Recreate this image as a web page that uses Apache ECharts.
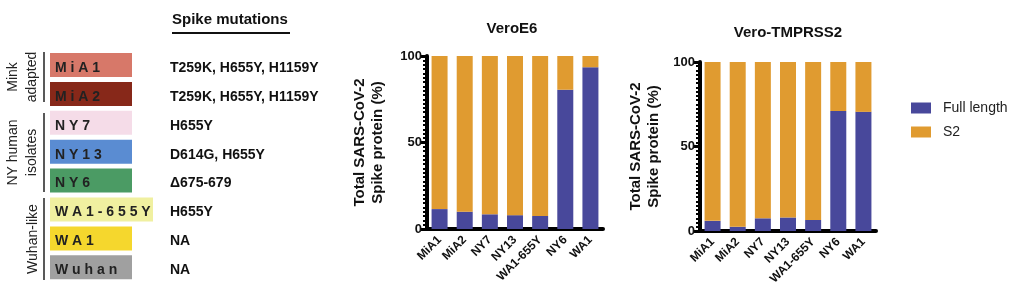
<!DOCTYPE html>
<html>
<head>
<meta charset="utf-8">
<script src="https://cdn.jsdelivr.net/npm/echarts@6/dist/echarts.min.js"></script>
<style>
html,body{margin:0;padding:0;background:#fff;}
#chart{width:1024px;height:300px;}
</style>
</head>
<body>
<div id="chart"></div>
<script>
// ---- data ----
const categories = ['MiA1', 'MiA2', 'NY7', 'NY13', 'WA1-655Y', 'NY6', 'WA1'];
const veroE6Full = [11.5, 10, 8.5, 8, 7.5, 80.5, 93.5];
const veroE6S2 = [88.5, 90, 91.5, 92, 92.5, 19.5, 6.5];
const tmprssFull = [6, 2.5, 7.5, 8, 6.5, 71, 70.5];
const tmprssS2 = [94, 97.5, 92.5, 92, 93.5, 29, 29.5];
const yTicks = [0, 50, 100];

const strains = ['MiA1', 'MiA2', 'NY7', 'NY13', 'NY6', 'WA1-655Y', 'WA1', 'Wuhan'];
const mutations = ['T259K, H655Y, H1159Y', 'T259K, H655Y, H1159Y', 'H655Y', 'D614G, H655Y', '\u0394675-679', 'H655Y', 'NA', 'NA'];
const groupLabels = ['Mink\nadapted', 'NY human\nisolates', 'Wuhan-like'];
const chartTitles = ['VeroE6', 'Vero-TMPRSS2'];
const yName = 'Total SARS-CoV-2\nSpike protein (%)';

// ---- styles ----
const strainColors = ['#d77869', '#872819', '#f5dce8', '#5a8cd2', '#4b9b64', '#f0f0a0', '#f5d72d', '#a0a0a0'];
const BLUE = '#48489b';
const ORANGE = '#e09b30';
const FONT = '"Liberation Sans", Arial, Helvetica, sans-serif';

const chart = echarts.init(document.getElementById('chart'), null, {renderer: 'canvas'});

function xAxisCfg(gi) {
  return {
    type: 'category', gridIndex: gi, data: categories,
    axisLine: {lineStyle: {color: '#000', width: 4}},
    axisTick: {alignWithLabel: true, length: 6, lineStyle: {color: '#000', width: 4}},
    axisLabel: {rotate: 45, margin: 9, color: '#111', fontFamily: FONT, fontWeight: 'bold', fontSize: 12, interval: 0},
    splitLine: {show: false}
  };
}
function yAxisCfg(gi, gap) {
  return {
    type: 'value', gridIndex: gi, min: yTicks[0], max: yTicks[2], interval: yTicks[1] - yTicks[0],
    name: yName, nameLocation: 'middle', nameRotate: 90, nameGap: gap,
    nameTextStyle: {color: '#111', fontFamily: FONT, fontWeight: 'bold', fontSize: 15, lineHeight: 18},
    axisLine: {show: true, lineStyle: {color: '#000', width: 4}},
    axisTick: {show: true, length: 6, lineStyle: {color: '#000', width: 3}},
    minorTick: {show: true, splitNumber: 20, length: 4, lineStyle: {color: '#000', width: 2}},
    axisLabel: {margin: 5, color: '#111', fontFamily: FONT, fontWeight: 'bold', fontSize: 13},
    splitLine: {show: false}
  };
}

// table graphics
const graphics = [];
const rowY0 = 68, rowPitch = 28.9;
graphics.push({type: 'text', left: 172, top: 12, style: {text: 'Spike mutations', font: 'bold 15px ' + FONT, fill: '#111'}});
graphics.push({type: 'rect', shape: {x: 172, y: 32, width: 118, height: 2}, style: {fill: '#111'}});
strains.forEach(function (s, i) {
  const cy = rowY0 + i * rowPitch;
  const w = s.length > 5 ? 103 : 82;
  graphics.push({type: 'rect', shape: {x: 50, y: cy - 15, width: w, height: 24}, style: {fill: strainColors[i]}});
  graphics.push({type: 'text', x: 55, y: cy, style: {text: s.split('').join(' '), font: 'bold 14px ' + FONT, fill: '#222', verticalAlign: 'middle', align: 'left'}});
  graphics.push({type: 'text', x: 170, y: cy, style: {text: mutations[i], font: 'bold 14px ' + FONT, fill: '#111', verticalAlign: 'middle', align: 'left'}});
});
const groupSpans = [[52, 102, 23], [113, 192, 23], [198, 280, 33]];
groupSpans.forEach(function (g, i) {
  graphics.push({type: 'line', shape: {x1: 44, y1: g[0], x2: 44, y2: g[1]}, style: {stroke: '#222', lineWidth: 1.5}});
  graphics.push({type: 'text', x: g[2], y: (g[0] + g[1]) / 2, rotation: Math.PI / 2,
    style: {text: groupLabels[i], font: '14px ' + FONT, fill: '#222', align: 'center', verticalAlign: 'middle', lineHeight: 19}});
});
graphics.push({type: 'text', x: 512, y: 29, style: {text: chartTitles[0], font: 'bold 15px ' + FONT, fill: '#111', align: 'center', verticalAlign: 'middle'}});
graphics.push({type: 'text', x: 788, y: 33, style: {text: chartTitles[1], font: 'bold 15px ' + FONT, fill: '#111', align: 'center', verticalAlign: 'middle'}});

const barCommon = {type: 'bar', barWidth: 16, animation: false};

chart.setOption({
  animation: false,
  grid: [
    {left: 427, width: 176, top: 56, height: 173},
    {left: 700, width: 176, top: 62, height: 169}
  ],
  xAxis: [xAxisCfg(0), xAxisCfg(1)],
  yAxis: [yAxisCfg(0, 40), yAxisCfg(1, 37)],
  legend: {
    data: ['Full length', 'S2'], orient: 'vertical', left: 906, top: 96,
    itemWidth: 20, itemHeight: 11, itemGap: 10, icon: 'rect',
    textStyle: {fontFamily: FONT, fontSize: 14, color: '#222', padding: [0, 0, 0, 7]}
  },
  graphic: graphics,
  series: [
    Object.assign({}, barCommon, {name: 'Full length', xAxisIndex: 0, yAxisIndex: 0, stack: 'a', data: veroE6Full, itemStyle: {color: BLUE}}),
    Object.assign({}, barCommon, {name: 'S2', xAxisIndex: 0, yAxisIndex: 0, stack: 'a', data: veroE6S2, itemStyle: {color: ORANGE}}),
    Object.assign({}, barCommon, {name: 'Full length', xAxisIndex: 1, yAxisIndex: 1, stack: 'b', data: tmprssFull, itemStyle: {color: BLUE}}),
    Object.assign({}, barCommon, {name: 'S2', xAxisIndex: 1, yAxisIndex: 1, stack: 'b', data: tmprssS2, itemStyle: {color: ORANGE}})
  ]
});
</script>
</body>
</html>
